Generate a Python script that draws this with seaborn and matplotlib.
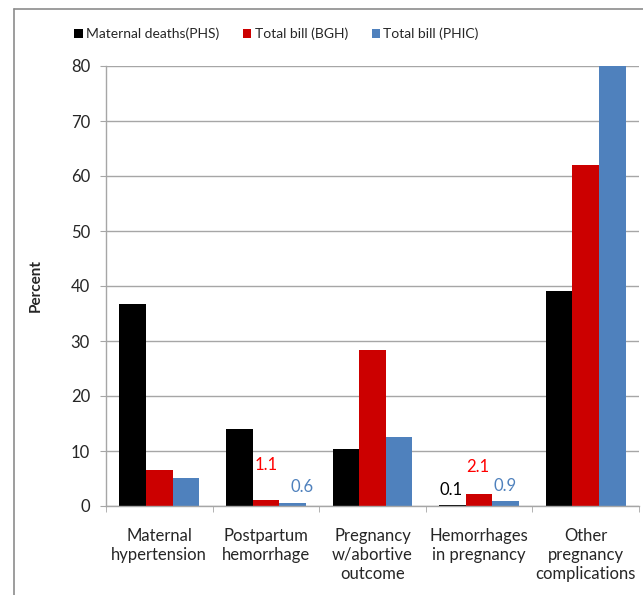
import pandas as pd
import numpy as np
import matplotlib
matplotlib.use("Agg")
import matplotlib.pyplot as plt
import seaborn as sns
from matplotlib.lines import Line2D

# data
categories = ['Maternal\nhypertension', 'Postpartum\nhemorrhage', 'Pregnancy\nw/abortive\noutcome',
              'Hemorrhages\nin pregnancy', 'Other\npregnancy\ncomplications']
series = ['Maternal deaths(PHS)', 'Total bill (BGH)', 'Total bill (PHIC)']
deaths_phs = [36.7, 14.0, 10.4, 0.1, 39.1]
bill_bgh = [6.5, 1.1, 28.4, 2.1, 62.0]
bill_phic = [5.1, 0.6, 12.5, 0.9, 80.9]
colors = ['#000000', '#CC0000', '#4F81BD']
label_colors = ['#000000', '#FF0000', '#4F81BD']

# data labels shown only on the small bars: (category index, series index, dx, dy)
small_labels = [(1, 1, 0.0, 6.3), (1, 2, 0.085, 2.85),
                (3, 0, -0.01, 2.8), (3, 1, -0.01, 5.0), (3, 2, -0.01, 2.7)]

df = pd.DataFrame({
    'category': np.repeat(categories, 3),
    'series': series * len(categories),
    'value': np.ravel(np.column_stack([deaths_phs, bill_bgh, bill_phic])),
})

sns.set_style('white')
plt.rcParams['font.family'] = ['Lato', 'DejaVu Sans']

fig = plt.figure(figsize=(6.43, 5.95), dpi=100)
ax = fig.add_axes([106 / 643, 1 - 506 / 595, (639 - 106) / 643, (506 - 66) / 595])

sns.barplot(data=df, x='category', y='value', hue='series', order=categories,
            hue_order=series, palette=colors, saturation=1, width=0.75,
            linewidth=0, ax=ax, legend=True)

ax.set_ylim(0, 80)
ax.set_xlim(-0.5, len(categories) - 0.5)
ax.set_yticks(range(0, 81, 10))
ax.yaxis.grid(True, color='#A6A6A6', linewidth=1)
ax.set_axisbelow(True)
for s in ['top', 'right']:
    ax.spines[s].set_visible(False)
for s in ['left', 'bottom']:
    ax.spines[s].set_color('#A6A6A6')
    ax.spines[s].set_linewidth(1)

ax.tick_params(axis='y', left=True, length=4.5, color='#A6A6A6', pad=7, labelsize=12)
ax.tick_params(axis='x', which='major', bottom=False, pad=12, labelsize=12)
ax.set_xticks(np.arange(-0.5, len(categories)), minor=True)
ax.tick_params(axis='x', which='minor', bottom=True, length=4.5, color='#A6A6A6')
for lab in ax.get_xticklabels():
    lab.set_linespacing(1.25)

ax.set_xlabel('')
ax.set_ylabel('Percent', fontsize=11, fontweight='bold', labelpad=20)

# small value labels
all_vals = [deaths_phs, bill_bgh, bill_phic]
for ci, si, dx, dy in small_labels:
    xpos = ci + (si - 1) * 0.25 + dx
    v = all_vals[si][ci]
    ax.text(xpos, v + dy, f'{v:.1f}', ha='center', va='center',
            color=label_colors[si], fontsize=12)

handles, labels = ax.get_legend_handles_labels()
ax.legend(handles, labels, loc='center', bbox_to_anchor=(0.43, 1 - 34 / 595),
          bbox_transform=fig.transFigure, ncol=3, frameon=False, fontsize=10,
          handlelength=0.6, handleheight=0.6, handletextpad=0.25, columnspacing=1.7)

# outer chart frame (cropped at right and bottom)
fig.add_artist(Line2D([14 / 643, 14 / 643], [0, 1 - 9 / 595], color='#8C8C8C', lw=1.2,
                      transform=fig.transFigure))
fig.add_artist(Line2D([14 / 643, 1], [1 - 9 / 595, 1 - 9 / 595], color='#8C8C8C', lw=1.2,
                      transform=fig.transFigure))

fig.savefig('out.png', dpi=100)
